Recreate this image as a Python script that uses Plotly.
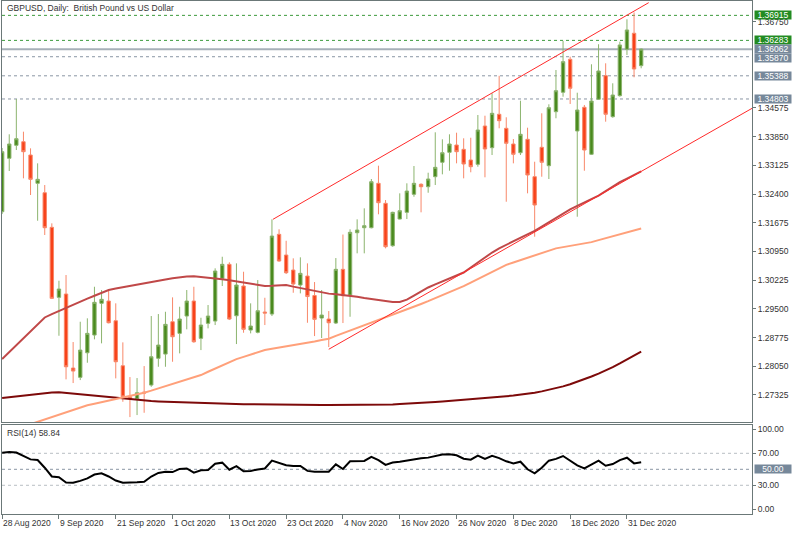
import plotly.graph_objects as go

# ---------------- data ----------------
date_labels = ["28 Aug 2020", "9 Sep 2020", "21 Sep 2020", "1 Oct 2020", "13 Oct 2020",
               "23 Oct 2020", "4 Nov 2020", "16 Nov 2020", "26 Nov 2020", "8 Dec 2020",
               "18 Dec 2020", "31 Dec 2020"]
date_tick_bars = [0, 8, 16, 24, 32, 40, 48, 56, 64, 72, 80, 88]

open_ = [1.31954, 1.33304, 1.33632, 1.33723, 1.33387, 1.32672, 1.32434, 1.31560, 1.29791, 1.29875,
         1.28005, 1.27770, 1.28391, 1.28839, 1.29640, 1.29698, 1.29200, 1.28063, 1.27279, 1.27229,
         1.27398, 1.27575, 1.28250, 1.28358, 1.29175, 1.28881, 1.29319, 1.29698, 1.28755, 1.29134,
         1.29192, 1.30271, 1.30625, 1.29326, 1.30077, 1.28965, 1.28907, 1.29420, 1.29369, 1.31383,
         1.30860, 1.30481, 1.30102, 1.30329, 1.29837, 1.29268, 1.29243, 1.29142, 1.30499, 1.29849,
         1.31424, 1.31550, 1.31550, 1.32672, 1.32167, 1.31095, 1.31770, 1.31939, 1.32394, 1.32647,
         1.32586, 1.32839, 1.33203, 1.33455, 1.33640, 1.33531, 1.33261, 1.33152, 1.34120, 1.33572,
         1.34416, 1.34062, 1.33665, 1.33445, 1.33784, 1.32839, 1.33582, 1.33117, 1.34481, 1.34972,
         1.35805, 1.33994, 1.34593, 1.33405, 1.34795, 1.35391, 1.34355, 1.34886, 1.36058, 1.36463,
         1.35644]
high = [1.33564, 1.33910, 1.34803, 1.33976, 1.33556, 1.33177, 1.32629, 1.31661, 1.30211, 1.30355,
        1.28662, 1.29175, 1.29261, 1.30059, 1.29976, 1.29976, 1.29640, 1.28654, 1.27777, 1.27752,
        1.28055, 1.29319, 1.29369, 1.29427, 1.29791, 1.29554, 1.29976, 1.30059, 1.29276, 1.29597,
        1.30524, 1.30817, 1.30676, 1.30650, 1.30438, 1.29640, 1.30228, 1.29781, 1.31762, 1.31510,
        1.31221, 1.30777, 1.30802, 1.30650, 1.30178, 1.29976, 1.29445, 1.30784, 1.31378, 1.31510,
        1.31762, 1.32040, 1.32781, 1.33117, 1.32250, 1.31954, 1.32419, 1.32672, 1.33109, 1.32672,
        1.32940, 1.33961, 1.33784, 1.33910, 1.33951, 1.33809, 1.33824, 1.34398, 1.34380, 1.34946,
        1.35388, 1.34340, 1.33791, 1.34759, 1.34077, 1.33218, 1.34441, 1.34668, 1.35535, 1.36270,
        1.35871, 1.34961, 1.34651, 1.35679, 1.36185, 1.35704, 1.35199, 1.36250, 1.36816, 1.36990,
        1.36080]
low = [1.31896, 1.32983, 1.33513, 1.32798, 1.32376, 1.31727, 1.31366, 1.29748, 1.28821, 1.27719,
       1.27626, 1.27701, 1.28139, 1.28730, 1.28629, 1.29134, 1.27744, 1.27153, 1.26766, 1.26817,
       1.26875, 1.27532, 1.28037, 1.28037, 1.28164, 1.28376, 1.28983, 1.28644, 1.28459, 1.29008,
       1.29091, 1.30077, 1.29218, 1.28611, 1.28897, 1.28881, 1.28881, 1.29091, 1.29319, 1.30691,
       1.30380, 1.29907, 1.29892, 1.29149, 1.28813, 1.28763, 1.28535, 1.29117, 1.29142, 1.29301,
       1.30903, 1.30903, 1.31535, 1.31889, 1.31029, 1.31070, 1.31762, 1.31770, 1.32333, 1.31939,
       1.32434, 1.32629, 1.32899, 1.32990, 1.33177, 1.32798, 1.32950, 1.33092, 1.32824, 1.33387,
       1.34062, 1.32207, 1.33177, 1.33387, 1.32419, 1.31323, 1.32839, 1.32781, 1.34315, 1.34860,
       1.34676, 1.31828, 1.32990, 1.33387, 1.34777, 1.34229, 1.34330, 1.34860, 1.35914, 1.35351,
       1.35578]
close = [1.33471, 1.33665, 1.33799, 1.33471, 1.32773, 1.32773, 1.31550, 1.29766, 1.30001, 1.28037,
         1.27929, 1.28459, 1.28881, 1.29665, 1.29741, 1.29149, 1.28164, 1.27279, 1.27229, 1.27380,
         1.27373, 1.28290, 1.28586, 1.29109, 1.28796, 1.29243, 1.29698, 1.28669, 1.29091, 1.29319,
         1.30456, 1.30625, 1.29243, 1.30102, 1.28983, 1.29066, 1.29453, 1.29394, 1.31340, 1.30709,
         1.30413, 1.30127, 1.30398, 1.29811, 1.29235, 1.29344, 1.29149, 1.30499, 1.29832, 1.31434,
         1.31492, 1.31601, 1.32712, 1.32182, 1.31070, 1.31939, 1.31980, 1.32477, 1.32672, 1.32586,
         1.32781, 1.33076, 1.33445, 1.33665, 1.33471, 1.33160, 1.33092, 1.34019, 1.33539, 1.34441,
         1.34254, 1.33683, 1.33405, 1.33910, 1.32882, 1.32124, 1.33203, 1.34582, 1.35012, 1.35745,
         1.35073, 1.34524, 1.33513, 1.34752, 1.35510, 1.34416, 1.34903, 1.36167, 1.36546, 1.35560,
         1.36062]

ma_fast = [1.28232, 1.28411, 1.28588, 1.28768, 1.28947, 1.29124, 1.29283, 1.29367, 1.29448, 1.29531,
           1.29607, 1.29683, 1.29758, 1.29832, 1.29907, 1.29978, 1.30014, 1.30049, 1.30084, 1.30120,
           1.30155, 1.30185, 1.30216, 1.30244, 1.30274, 1.30297, 1.30319, 1.30322, 1.30307, 1.30292,
           1.30274, 1.30246, 1.30221, 1.30193, 1.30165, 1.30137, 1.30110, 1.30079, 1.30084, 1.30095,
           1.30102, 1.30062, 1.30024, 1.29983, 1.29943, 1.29905, 1.29885, 1.29867, 1.29849, 1.29832,
           1.29806, 1.29776, 1.29746, 1.29715, 1.29685, 1.29672, 1.29672, 1.29733, 1.29837, 1.29938,
           1.30041, 1.30117, 1.30191, 1.30266, 1.30340, 1.30418, 1.30544, 1.30671, 1.30797, 1.30923,
           1.31029, 1.31118, 1.31206, 1.31292, 1.31381, 1.31472, 1.31580, 1.31692, 1.31800, 1.31909,
           1.32015, 1.32101, 1.32187, 1.32273, 1.32361, 1.32475, 1.32589, 1.32700, 1.32791, 1.32882,
           1.32973]
ma_mid_first_bar = 4
ma_mid = [1.26587, 1.26648, 1.26708, 1.26769, 1.26830, 1.26893, 1.26953, 1.27014, 1.27065, 1.27102,
          1.27140, 1.27178, 1.27216, 1.27254, 1.27292, 1.27335, 1.27383, 1.27434, 1.27489, 1.27545,
          1.27603, 1.27658, 1.27714, 1.27772, 1.27828, 1.27911, 1.27992, 1.28075, 1.28156, 1.28230,
          1.28288, 1.28346, 1.28404, 1.28459, 1.28495, 1.28523, 1.28553, 1.28581, 1.28611, 1.28644,
          1.28677, 1.28712, 1.28745, 1.28818, 1.28884, 1.28955, 1.29025, 1.29081, 1.29149, 1.29215,
          1.29281, 1.29359, 1.29425, 1.29480, 1.29554, 1.29624, 1.29695, 1.29768, 1.29839, 1.29910,
          1.29986, 1.30074, 1.30165, 1.30256, 1.30345, 1.30436, 1.30527, 1.30612, 1.30673, 1.30731,
          1.30792, 1.30850, 1.30911, 1.30969, 1.31029, 1.31060, 1.31090, 1.31120, 1.31153, 1.31186,
          1.31237, 1.31287, 1.31340, 1.31386, 1.31434, 1.31482, 1.31530]
ma_slow = [1.27247, 1.27267, 1.27289, 1.27310, 1.27332, 1.27350, 1.27368, 1.27388, 1.27391, 1.27373,
           1.27355, 1.27340, 1.27322, 1.27305, 1.27287, 1.27269, 1.27252, 1.27234, 1.27214, 1.27196,
           1.27178, 1.27171, 1.27163, 1.27156, 1.27148, 1.27140, 1.27130, 1.27125, 1.27120, 1.27115,
           1.27110, 1.27105, 1.27097, 1.27095, 1.27092, 1.27090, 1.27090, 1.27087, 1.27085, 1.27082,
           1.27080, 1.27077, 1.27075, 1.27075, 1.27072, 1.27072, 1.27070, 1.27070, 1.27070, 1.27070,
           1.27070, 1.27072, 1.27075, 1.27077, 1.27082, 1.27087, 1.27095, 1.27102, 1.27112, 1.27122,
           1.27133, 1.27145, 1.27158, 1.27171, 1.27186, 1.27201, 1.27216, 1.27232, 1.27247, 1.27262,
           1.27277, 1.27292, 1.27310, 1.27330, 1.27355, 1.27383, 1.27416, 1.27454, 1.27494, 1.27542,
           1.27595, 1.27656, 1.27722, 1.27792, 1.27866, 1.27944, 1.28030, 1.28123, 1.28219, 1.28321,
           1.28422]

rsi = [70.8, 71.5, 71.0, 67.0, 62.4, 61.6, 52.0, 41.0, 40.0, 33.5,
       33.3, 35.5, 38.7, 43.5, 44.9, 41.0, 36.0, 33.3, 33.3, 33.8,
       34.5, 41.0, 45.5, 47.0, 46.5, 50.5, 51.0, 45.8, 48.8, 49.1,
       57.0, 58.3, 49.5, 54.0, 47.5, 48.0, 49.8, 51.0, 60.8, 57.4,
       55.0, 54.1, 54.1, 48.0, 47.0, 47.0, 47.0, 56.2, 50.4, 60.0,
       60.4, 60.4, 65.5, 61.5, 55.5, 58.5, 59.5, 61.2, 62.9, 63.7,
       64.6, 66.5, 68.4, 68.7, 67.5, 63.2, 62.1, 67.2, 63.0, 66.8,
       64.0, 60.0, 57.4, 59.5, 50.0, 44.9, 52.0, 60.8, 63.0, 66.6,
       61.0, 55.0, 51.2, 56.0, 60.8, 54.5, 56.5, 61.5, 64.5, 57.4,
       58.84]
rsi_last = 58.84

price_ticks = [1.27325, 1.28050, 1.28775, 1.29500, 1.30225, 1.30950, 1.31675,
               1.32400, 1.33125, 1.33850, 1.34575, 1.36750]
green_levels = [1.36915, 1.36283]
gray_levels = [1.35870, 1.35388, 1.34803]
bid_price = 1.36062
rsi_levels = [70, 50, 30]
rsi_ticks = [0, 30, 70, 100]

channel_upper_bars = [38.14, 91.06]
channel_upper_prices = [1.31762, 1.37236]
channel_lower_bars = [46.0, 105.7]
channel_lower_prices = [1.28480, 1.34575]

# ---------------- layout constants ----------------
W, H = 800, 533
X_DOM = [2 / W, 752 / W]
MAIN_DOM = [1 - 422 / H, 1 - 1 / H]
RSI_DOM = [1 - 514 / H, 1 - 425 / H]
X_RANGE = [-0.02, 105.61]
FONT = "Liberation Sans"
FRAME = "#6b7878"
TXT = "#333333"

bars = list(range(len(close)))

fig = go.Figure()

fig.add_trace(go.Candlestick(
    x=bars, open=open_, high=high, low=low, close=close,
    increasing=dict(fillcolor="#4a8a1e", line=dict(color="#8cb46e", width=1)),
    decreasing=dict(fillcolor="#f7421a", line=dict(color="#f8886a", width=1)),
    whiskerwidth=0, showlegend=False, hoverinfo="skip",
    xaxis="x", yaxis="y"))

fig.add_trace(go.Scatter(x=bars, y=ma_slow, mode="lines",
                         line=dict(color="#7d0a0a", width=2), showlegend=False,
                         xaxis="x", yaxis="y"))
fig.add_trace(go.Scatter(x=bars[ma_mid_first_bar:], y=ma_mid, mode="lines",
                         line=dict(color="#ffa07a", width=2), showlegend=False,
                         xaxis="x", yaxis="y"))
fig.add_trace(go.Scatter(x=bars, y=ma_fast, mode="lines",
                         line=dict(color="#c04848", width=2), showlegend=False,
                         xaxis="x", yaxis="y"))
fig.add_trace(go.Scatter(x=channel_upper_bars, y=channel_upper_prices, mode="lines",
                         line=dict(color="#ff2a2a", width=1), showlegend=False,
                         xaxis="x", yaxis="y"))
fig.add_trace(go.Scatter(x=channel_lower_bars, y=channel_lower_prices, mode="lines",
                         line=dict(color="#ff2a2a", width=1), showlegend=False,
                         xaxis="x", yaxis="y"))

fig.add_trace(go.Scatter(x=bars, y=rsi, mode="lines",
                         line=dict(color="#000000", width=2), showlegend=False,
                         xaxis="x2", yaxis="y2"))

shapes = []
for lv in green_levels:
    shapes.append(dict(type="line", xref="paper", yref="y", x0=X_DOM[0], x1=X_DOM[1],
                       y0=lv, y1=lv, line=dict(color="#3c9a3c", width=1, dash="dot"), layer="below"))
for lv in gray_levels:
    shapes.append(dict(type="line", xref="paper", yref="y", x0=X_DOM[0], x1=X_DOM[1],
                       y0=lv, y1=lv, line=dict(color="#8a96a4", width=1, dash="dot"), layer="below"))
shapes.append(dict(type="line", xref="paper", yref="y", x0=X_DOM[0], x1=X_DOM[1],
                   y0=bid_price, y1=bid_price, line=dict(color="#a7b0b8", width=2), layer="below"))
for lv in rsi_levels:
    shapes.append(dict(type="line", xref="paper", yref="y2", x0=X_DOM[0], x1=X_DOM[1],
                       y0=lv, y1=lv,
                       line=dict(color="#8a96a4" if lv == 50 else "#b8bec4", width=1, dash="dot"),
                       layer="below"))

annotations = []
annotations.append(dict(text="GBPUSD, Daily:\u00a0\u00a0British Pound vs US Dollar",
                        xref="paper", yref="paper", x=5 / W, y=1 - 8 / H,
                        xanchor="left", yanchor="middle", showarrow=False,
                        font=dict(family=FONT, size=8.5, color=TXT)))
annotations.append(dict(text=f"RSI(14) {rsi_last:.2f}",
                        xref="paper", yref="paper", x=5 / W, y=1 - 433 / H,
                        xanchor="left", yanchor="middle", showarrow=False,
                        font=dict(family=FONT, size=8.5, color=TXT)))
for b, lab in zip(date_tick_bars, date_labels):
    annotations.append(dict(text=lab, xref="x2", yref="paper", x=b, y=1 - 523 / H,
                            xanchor="left", yanchor="middle", showarrow=False, xshift=-1,
                            font=dict(family=FONT, size=8.5, color=TXT)))

def box(val, yref, color, fmt, yshift=0):
    return dict(text=fmt.format(val), xref="paper", yref=yref, x=X_DOM[1], y=val,
                xanchor="left", yanchor="middle", showarrow=False, xshift=2, yshift=yshift,
                bgcolor=color, borderpad=0, height=8, width=36,
                font=dict(family=FONT, size=8.5, color="#ffffff"))

annotations.append(box(green_levels[0], "y", "#228b22", "{:.5f}"))
annotations.append(box(green_levels[1], "y", "#228b22", "{:.5f}"))
annotations.append(box(bid_price, "y", "#76889a", "{:.5f}", yshift=0.6))
annotations.append(box(gray_levels[0], "y", "#76889a", "{:.5f}", yshift=-0.8))
annotations.append(box(gray_levels[1], "y", "#76889a", "{:.5f}"))
annotations.append(box(gray_levels[2], "y", "#76889a", "{:.5f}"))
annotations.append(box(50, "y2", "#76889a", "{:.2f}"))

axis_common = dict(showgrid=False, zeroline=False, showline=True, mirror=True,
                   linecolor=FRAME, linewidth=1)

fig.update_layout(
    width=W, height=H, margin=dict(l=0, r=0, t=0, b=0),
    paper_bgcolor="white", plot_bgcolor="white",
    boxgap=0.32, showlegend=False,
    shapes=shapes, annotations=annotations,
    xaxis=dict(domain=X_DOM, range=X_RANGE, anchor="y",
               showticklabels=False, ticks="", rangeslider=dict(visible=False), **axis_common),
    xaxis2=dict(domain=X_DOM, range=X_RANGE, anchor="y2", matches="x",
                tickvals=date_tick_bars, ticks="outside", ticklen=4, tickcolor=FRAME,
                showticklabels=False, **axis_common),
    yaxis=dict(domain=MAIN_DOM, range=[1.26642, 1.37278], anchor="x", side="right",
               tickvals=price_ticks, ticktext=[f"{v:.5f}" for v in price_ticks],
               ticks="outside", ticklen=3, tickcolor=FRAME,
               tickfont=dict(family=FONT, size=8.5, color=TXT), **axis_common),
    yaxis2=dict(domain=RSI_DOM, range=[-5.9, 105.4], anchor="x2", side="right",
                tickvals=rsi_ticks, ticktext=[f"{v:.2f}" for v in rsi_ticks],
                ticks="outside", ticklen=3, tickcolor=FRAME,
                tickfont=dict(family=FONT, size=8.5, color=TXT), **axis_common),
)

fig.write_html("out.html")
